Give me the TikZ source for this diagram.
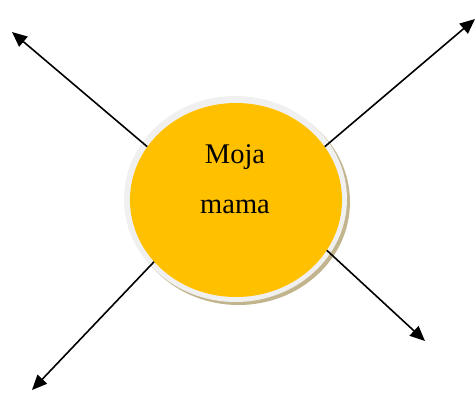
\documentclass[tikz,border=0pt]{standalone}
\usepackage{fontspec}
\setmainfont{Liberation Serif}
\usetikzlibrary{arrows.meta,shapes.geometric}
\definecolor{yolkorange}{HTML}{FFC000}
\definecolor{rimgray}{HTML}{F0F0F0}
\definecolor{rimshadow}{HTML}{C2B48C}
\tikzset{
  arrowline/.style={line width=1.6pt,-{Triangle[length=15pt,width=13pt]}},
  eggshape/.style={ellipse,inner sep=0pt}
}
\begin{document}
\begin{tikzpicture}[x=1pt,y=-1pt]
\useasboundingbox (0,0) rectangle (476,392);
\node[eggshape,fill=rimshadow,minimum width=223pt,minimum height=206pt] (shade) at (238.5,202) {};
\node[eggshape,fill=rimgray,minimum width=223pt,minimum height=206pt] (rim) at (235.5,199) {};
\node[eggshape,fill=yolkorange,minimum width=212pt,minimum height=194pt] (mom) at (236,200) {};
\node[anchor=base,font=\fontsize{28.5}{34}\selectfont] (word1) at (235,163) {Moja};
\node[anchor=base,font=\fontsize{28.5}{34}\selectfont] (word2) at (235,213) {mama};
\coordinate (nw) at (12,32);
\coordinate (ne) at (475,19);
\coordinate (sw) at (32,390);
\coordinate (se) at (425,341);
\draw[arrowline] (mom.149) -- (nw);
\draw[arrowline] (mom.31) -- (ne);
\draw[arrowline] (mom.217) -- (sw);
\draw[arrowline] (mom.331) -- (se);
\end{tikzpicture}
\end{document}
